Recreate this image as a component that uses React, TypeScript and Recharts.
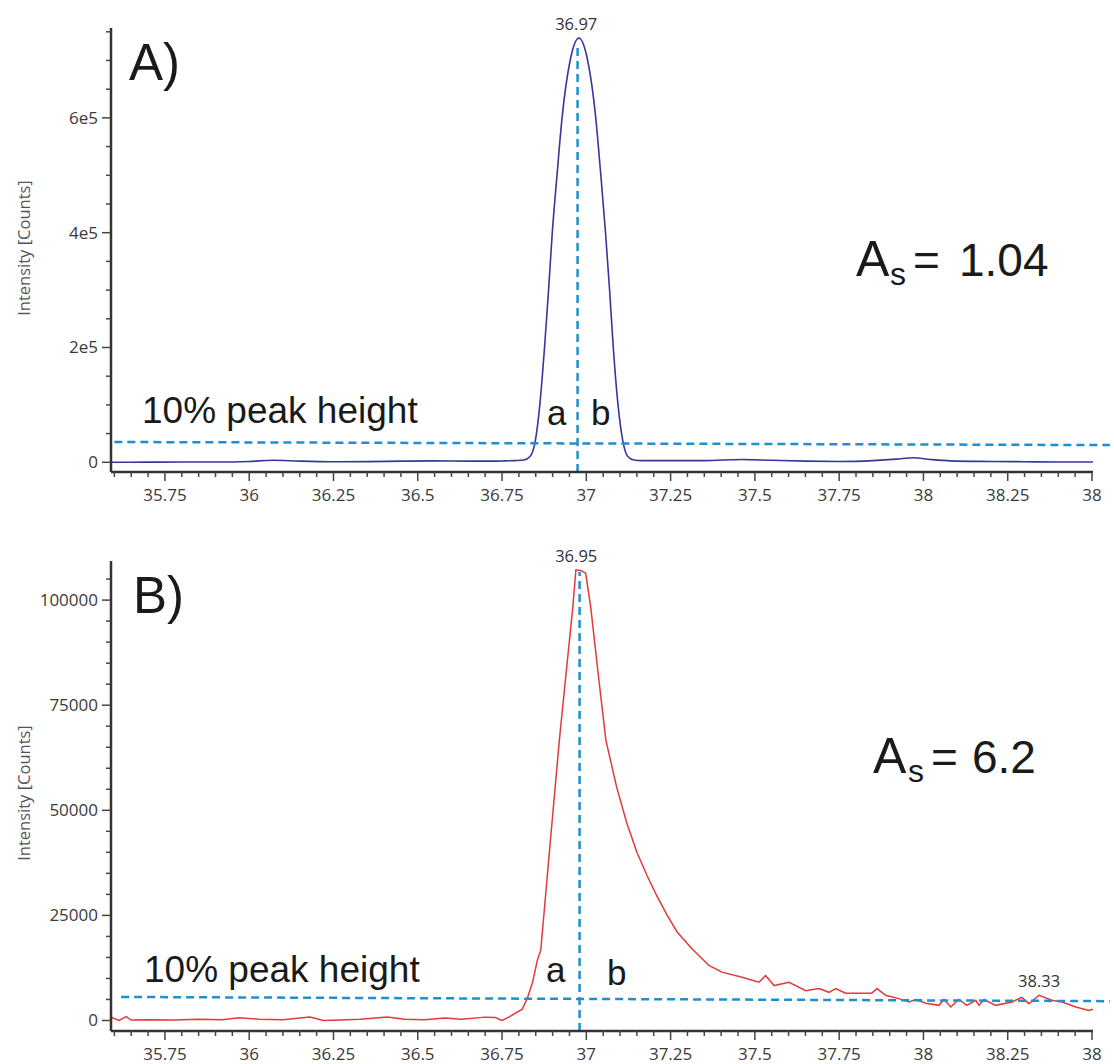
import React from "react";
import { LineChart, Line, XAxis, YAxis, ReferenceLine, ReferenceDot } from "recharts";

// ---------- data ----------
const TOP_T = [35.59, 35.7, 35.8, 35.9, 36.0, 36.07, 36.15, 36.25, 36.35, 36.45, 36.55, 36.65, 36.72, 36.76, 36.79, 36.815, 36.833, 36.848, 36.862, 36.876, 36.888, 36.899, 36.913, 36.928, 36.952, 36.978, 37.004, 37.028, 37.043, 37.057, 37.069, 37.08, 37.094, 37.109, 37.123, 37.141, 37.165, 37.19, 37.25, 37.35, 37.46, 37.55, 37.65, 37.75, 37.85, 37.92, 37.97, 38.02, 38.08, 38.2, 38.3, 38.4, 38.503];
const TOP_V = [0, 300, 500, 400, 1500, 3500, 2000, 1000, 1200, 2000, 2500, 2000, 2000, 2500, 3000, 4000, 10000, 35000, 100000, 200000, 300000, 400000, 500000, 600000, 700000, 739000, 700000, 600000, 500000, 400000, 300000, 200000, 100000, 35000, 10000, 4000, 3000, 3000, 3000, 3000, 5000, 3500, 2000, 1500, 3000, 5500, 8000, 5000, 2500, 1500, 1000, 500, 500];

const BOT_T = [35.59, 35.614, 35.635, 35.65, 35.7, 35.78, 35.85, 35.92, 35.97, 36.03, 36.1, 36.18, 36.22, 36.27, 36.33, 36.41, 36.46, 36.52, 36.58, 36.63, 36.7, 36.73, 36.75, 36.77, 36.81, 36.825, 36.84, 36.855, 36.865, 36.892, 36.92, 36.94, 36.96, 36.969, 36.985, 36.998, 37.013, 37.035, 37.058, 37.09, 37.12, 37.15, 37.18, 37.21, 37.24, 37.27, 37.314, 37.364, 37.402, 37.462, 37.512, 37.532, 37.557, 37.601, 37.651, 37.69, 37.72, 37.74, 37.769, 37.847, 37.862, 37.888, 37.927, 37.957, 37.977, 38.007, 38.046, 38.061, 38.081, 38.105, 38.129, 38.155, 38.165, 38.18, 38.214, 38.263, 38.292, 38.313, 38.343, 38.381, 38.411, 38.452, 38.491, 38.503];
const BOT_V = [760, 0, 900, 100, 200, 100, 300, 200, 660, 300, 200, 800, 0, 100, 300, 800, 300, 200, 600, 300, 800, 700, 0, 800, 2700, 5300, 8900, 14400, 16800, 41500, 66700, 82600, 98400, 107200, 107000, 106400, 98400, 82600, 66700, 55500, 47000, 40000, 34500, 29500, 25000, 21000, 17000, 13100, 11500, 10300, 9100, 10700, 8300, 9100, 7100, 7600, 6700, 7600, 6500, 6500, 7600, 6000, 5200, 4400, 5000, 4100, 3600, 5000, 3200, 5000, 3600, 4800, 3600, 5000, 3600, 4400, 5500, 4000, 6000, 4800, 4400, 3200, 2400, 2700];

const X_MAJOR = [35.75, 36, 36.25, 36.5, 36.75, 37, 37.25, 37.5, 37.75, 38, 38.25, 38.5];
const X_MAJOR_LABELS = ["35.75", "36", "36.25", "36.5", "36.75", "37", "37.25", "37.5", "37.75", "38", "38.25", "38"];
const X_MINOR = [35.6, 35.65, 35.7, 35.8, 35.85, 35.9, 35.95, 36.05, 36.1, 36.15, 36.2, 36.3, 36.35, 36.4, 36.45, 36.55, 36.6, 36.65, 36.7, 36.8, 36.85, 36.9, 36.95, 37.05, 37.1, 37.15, 37.2, 37.3, 37.35, 37.4, 37.45, 37.55, 37.6, 37.65, 37.7, 37.8, 37.85, 37.9, 37.95, 38.05, 38.1, 38.15, 38.2, 38.3, 38.35, 38.4, 38.45];

const TOP_Y_MAJOR = [0, 200000, 400000, 600000];
const TOP_Y_MAJOR_LABELS = ["0", "2e5", "4e5", "6e5"];
const TOP_Y_MINOR = [50000, 100000, 150000, 250000, 300000, 350000, 450000, 500000, 550000, 650000, 700000, 750000];

const BOT_Y_MAJOR = [0, 25000, 50000, 75000, 100000];
const BOT_Y_MAJOR_LABELS = ["0", "25000", "50000", "75000", "100000"];
const BOT_Y_MINOR = [5000, 10000, 15000, 20000, 30000, 35000, 40000, 45000, 55000, 60000, 65000, 70000, 80000, 85000, 90000, 95000, 105000];

const TOP_PEAK = { t: 36.97, label: "36.97", v: 739000, lineT: 36.974, lineTop: 723500 };
const BOT_PEAK = { t: 36.97, label: "36.95", v: 107200, lineT: 36.98, lineTop: 106700 };
const BOT_PEAK2 = { t: 38.343, label: "38.33", v: 6000 };
const TOP_TENPCT = [35.6, 35400, 38.553, 30000];
const BOT_TENPCT = [35.62, 5600, 38.553, 4600];

const TOP_DATA = TOP_T.map((t, i) => ({ t, v: TOP_V[i] }));
const BOT_DATA = BOT_T.map((t, i) => ({ t, v: BOT_V[i] }));

// ---------- styles ----------
const TICK_FONT = "'Open Sans', 'Noto Sans', sans-serif";
const ANNOT_FONT = "'Liberation Sans', Arial, sans-serif";
const DASH = "#1e8fd0";
const AXIS = "#333";
const TICK_COLOR = "#3a3a3a";

const makeXTick = (props: any) => {
  const { x, y, payload } = props;
  const idx = X_MAJOR.findIndex((m) => Math.abs(m - payload.value) < 1e-6);
  const major = idx >= 0;
  return (
    <g>
      <line x1={x} x2={x} y1={y} y2={y + (major ? 9 : 5)} stroke="#444" strokeWidth={1.5} />
      {major && (
        <text x={x} y={y + 23} dy="0.35em" textAnchor="middle" fontFamily={TICK_FONT} fontSize={17} fill={TICK_COLOR}>
          {X_MAJOR_LABELS[idx]}
        </text>
      )}
    </g>
  );
};

const makeYTick = (majors: number[], labels: string[]) => (props: any) => {
  const { x, y, payload } = props;
  const idx = majors.findIndex((m) => Math.abs(m - payload.value) < 1e-6);
  const major = idx >= 0;
  return (
    <g>
      <line x1={x} x2={x - (major ? 9 : 5)} y1={y} y2={y} stroke="#444" strokeWidth={1.5} />
      {major && (
        <text x={x - 13} y={y} dy="0.35em" textAnchor="end" fontFamily={TICK_FONT} fontSize={17} fill={TICK_COLOR}>
          {labels[idx]}
        </text>
      )}
    </g>
  );
};

const X_ALL = [...X_MAJOR, ...X_MINOR].sort((a, b) => a - b);
const TOP_Y_ALL = [...TOP_Y_MAJOR, ...TOP_Y_MINOR].sort((a, b) => a - b);
const BOT_Y_ALL = [...BOT_Y_MAJOR, ...BOT_Y_MINOR].sort((a, b) => a - b);

const X_DOMAIN: [number, number] = [35.59, 38.503];

const peakLabel = (text: string) => ({
  value: text,
  position: "top" as const,
  offset: 8,
  fill: "#333",
  fontSize: 16.5,
  fontFamily: TICK_FONT,
});

export default function App() {
  return (
    <div style={{ position: "absolute", left: 0, top: 0, width: 1114, height: 1064, background: "#fff" }}>
      <div style={{ position: "absolute", left: 0, top: 0 }}>
        <LineChart width={1114} height={520} data={TOP_DATA} margin={{ top: 28, right: 21, left: 0, bottom: 0 }}>
          <XAxis
            dataKey="t"
            type="number"
            domain={X_DOMAIN}
            allowDataOverflow
            ticks={X_ALL}
            interval={0}
            tickSize={0}
            tickMargin={0}
            tickLine={false}
            tick={makeXTick}
            height={48}
            axisLine={{ stroke: AXIS, strokeWidth: 2.5 }}
          />
          <YAxis
            type="number"
            domain={[-16900, 756600]}
            allowDataOverflow
            ticks={TOP_Y_ALL}
            interval={0}
            tickSize={0}
            tickMargin={0}
            tickLine={false}
            tick={makeYTick(TOP_Y_MAJOR, TOP_Y_MAJOR_LABELS)}
            width={111}
            axisLine={{ stroke: AXIS, strokeWidth: 2.5 }}
          />
          <Line type="monotone" dataKey="v" stroke="#36369c" strokeWidth={1.6} dot={false} isAnimationActive={false} />
          <ReferenceLine
            segment={[{ x: TOP_TENPCT[0], y: TOP_TENPCT[1] }, { x: TOP_TENPCT[2], y: TOP_TENPCT[3] }]}
            stroke={DASH}
            strokeWidth={2.5}
            strokeDasharray="8 5"
            ifOverflow="visible"
          />
          <ReferenceLine
            segment={[{ x: TOP_PEAK.lineT, y: -16900 }, { x: TOP_PEAK.lineT, y: TOP_PEAK.lineTop }]}
            stroke={DASH}
            strokeWidth={2.5}
            strokeDasharray="8 5"
            ifOverflow="visible"
          />
          <ReferenceDot x={TOP_PEAK.t} y={TOP_PEAK.v} r={0} fill="none" stroke="none" label={peakLabel(TOP_PEAK.label)} />
        </LineChart>
      </div>
      <div style={{ position: "absolute", left: 0, top: 520 }}>
        <LineChart width={1114} height={544} data={BOT_DATA} margin={{ top: 41, right: 21, left: 0, bottom: 0 }}>
          <XAxis
            dataKey="t"
            type="number"
            domain={X_DOMAIN}
            allowDataOverflow
            ticks={X_ALL}
            interval={0}
            tickSize={0}
            tickMargin={0}
            tickLine={false}
            tick={makeXTick}
            height={33}
            axisLine={{ stroke: AXIS, strokeWidth: 2.5 }}
          />
          <YAxis
            type="number"
            domain={[-2500, 109300]}
            allowDataOverflow
            ticks={BOT_Y_ALL}
            interval={0}
            tickSize={0}
            tickMargin={0}
            tickLine={false}
            tick={makeYTick(BOT_Y_MAJOR, BOT_Y_MAJOR_LABELS)}
            width={111}
            axisLine={{ stroke: AXIS, strokeWidth: 2.5 }}
          />
          <Line type="linear" dataKey="v" stroke="#e23a3a" strokeWidth={1.5} dot={false} isAnimationActive={false} />
          <ReferenceLine
            segment={[{ x: BOT_TENPCT[0], y: BOT_TENPCT[1] }, { x: BOT_TENPCT[2], y: BOT_TENPCT[3] }]}
            stroke={DASH}
            strokeWidth={2.5}
            strokeDasharray="8 5"
            ifOverflow="visible"
          />
          <ReferenceLine
            segment={[{ x: BOT_PEAK.lineT, y: -2500 }, { x: BOT_PEAK.lineT, y: BOT_PEAK.lineTop }]}
            stroke={DASH}
            strokeWidth={2.5}
            strokeDasharray="8 5"
            ifOverflow="visible"
          />
          <ReferenceDot x={BOT_PEAK.t} y={BOT_PEAK.v} r={0} fill="none" stroke="none" label={peakLabel(BOT_PEAK.label)} />
          <ReferenceDot x={BOT_PEAK2.t} y={BOT_PEAK2.v} r={0} fill="none" stroke="none" label={peakLabel(BOT_PEAK2.label)} />
        </LineChart>
      </div>
      <svg
        width={1114}
        height={1064}
        style={{ position: "absolute", left: 0, top: 0, pointerEvents: "none" }}
      >
        <text x={24} y={248} transform="rotate(-90 24 248)" textAnchor="middle" dy="0.35em" fontFamily={TICK_FONT} fontSize={16.5} fill="#555">
          Intensity [Counts]
        </text>
        <text x={24} y={793} transform="rotate(-90 24 793)" textAnchor="middle" dy="0.35em" fontFamily={TICK_FONT} fontSize={16.5} fill="#555">
          Intensity [Counts]
        </text>
        <g fontFamily={ANNOT_FONT} fill="#1a1a1a">
          <text x={129} y={80} fontSize={51}>A)</text>
          <text x={133} y={613} fontSize={51}>B)</text>
          <text x={142} y={423} fontSize={37}>10% peak height</text>
          <text x={144} y={982} fontSize={37}>10% peak height</text>
          <text x={547} y={425} fontSize={35}>a</text>
          <text x={591} y={425} fontSize={35}>b</text>
          <text x={546} y={982} fontSize={35}>a</text>
          <text x={607} y={985} fontSize={35}>b</text>
          <text x={856} y={276} fontSize={50}>A</text>
          <text x={890} y={285} fontSize={32}>s</text>
          <text x={913} y={276} fontSize={46}>=</text>
          <text x={959} y={276} fontSize={46}>1.04</text>
          <text x={873} y={773} fontSize={50}>A</text>
          <text x={908} y={782} fontSize={32}>s</text>
          <text x={931} y={773} fontSize={46}>=</text>
          <text x={972} y={773} fontSize={46}>6.2</text>
        </g>
      </svg>
    </div>
  );
}
